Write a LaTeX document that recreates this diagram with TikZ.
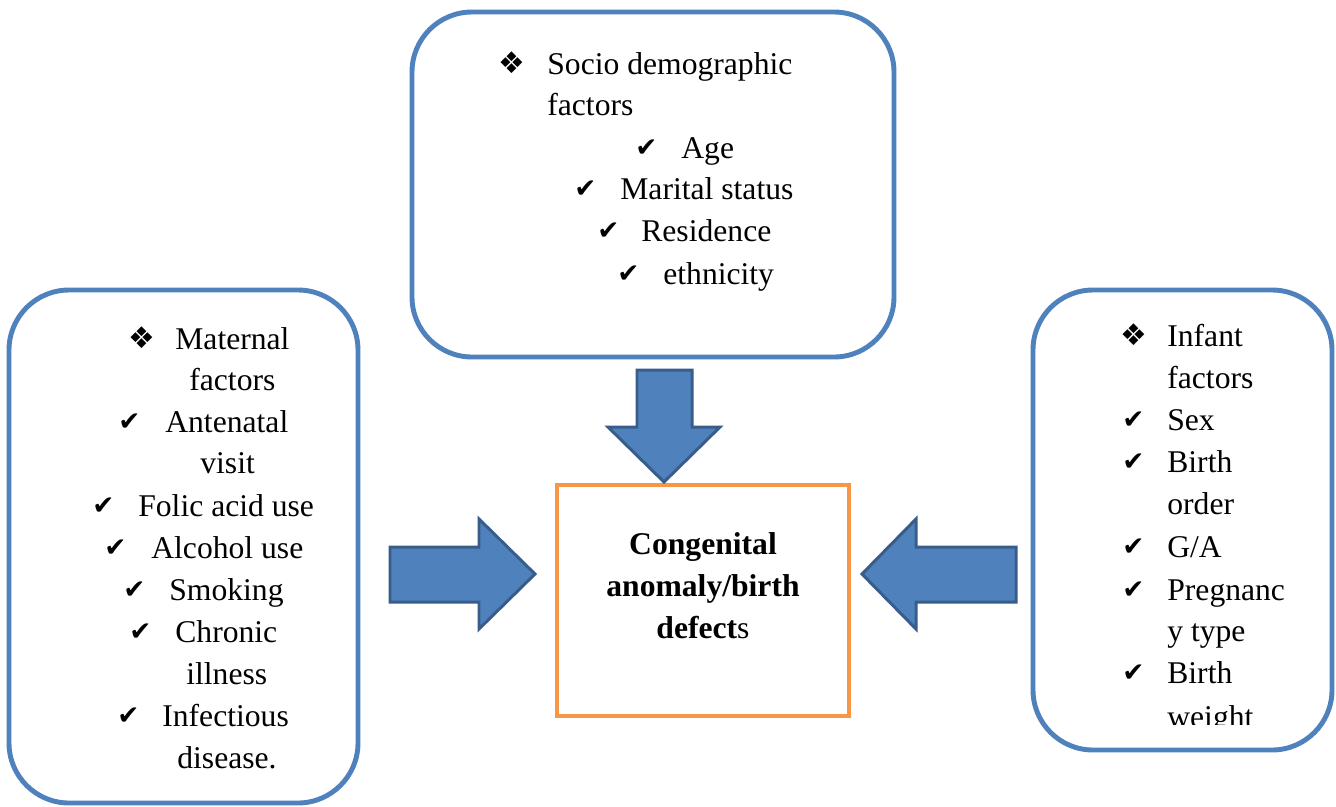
\documentclass[tikz,border=0pt]{standalone}
\usepackage{fontspec}
\setmainfont{Liberation Serif}
\newfontfamily\symfont{DejaVu Sans}
\definecolor{boxblue}{HTML}{4F81BD}
\definecolor{arrowline}{HTML}{385D8A}
\definecolor{centerorange}{HTML}{F79646}
\tikzset{
 rbox/.style={draw=boxblue, line width=2.8pt, rounded corners=1.2cm},
 cbox/.style={draw=centerorange, line width=2.3pt},
 blockarrow/.style={fill=boxblue, draw=arrowline, line width=1.7pt, line join=miter},
 txt/.style={anchor=base west, inner sep=0pt, font=\fontsize{18}{22}\selectfont},
 ctxt/.style={anchor=base, inner sep=0pt, font=\fontsize{18}{22}\selectfont\bfseries},
 chk/.style={anchor=base west, inner sep=0pt, font=\symfont\fontsize{15}{16}\selectfont},
 dia/.style={anchor=base west, inner sep=0pt, font=\symfont\fontsize{17}{18}\selectfont},
}
\begin{document}
\begin{tikzpicture}[x=0.02cm, y=-0.02cm]
\useasboundingbox (0,0) rectangle (1336,806);
\clip (0,0) rectangle (1336,806);
\fill[white] (0,0) rectangle (1336,806);

% boxes
\draw[rbox] (412,12) rectangle (894,357);
\draw[rbox] (9,290) rectangle (358,803);
\draw[rbox] (1033,290) rectangle (1332,750);
\draw[cbox] (557,485) rectangle (849,716);

% block arrows
\draw[blockarrow] (637,370) -- (692,370) -- (692,427) -- (720,427) -- (664,482) -- (608,427) -- (637,427) -- cycle;
\draw[blockarrow] (390,547) -- (479,547) -- (479,519) -- (535,574) -- (479,629) -- (479,602) -- (390,602) -- cycle;
\draw[blockarrow] (1016,547) -- (916,547) -- (916,519) -- (862,574) -- (916,629) -- (916,602) -- (1016,602) -- cycle;

% top box text
\node[dia] (tb) at (498,73) {❖};
\node[txt] (t1) at (547,74) {Socio demographic};
\node[txt] (t2) at (547,115) {factors};
\node[chk] (tc1) at (635,156) {✔};
\node[txt] (t3) at (681,158) {Age};
\node[chk] (tc2) at (574,197) {✔};
\node[txt] (t4) at (620,199) {Marital status};
\node[chk] (tc3) at (597,239) {✔};
\node[txt] (t5) at (641,241) {Residence};
\node[chk] (tc4) at (617,282) {✔};
\node[txt] (t6) at (663,284) {ethnicity};

% left box text
\node[dia] (lb) at (128,348) {❖};
\node[txt] (l1) at (175,349) {Maternal};
\node[txt] (l2) at (189,390) {factors};
\node[chk] (lc1) at (118,430) {✔};
\node[txt] (l3) at (165,432) {Antenatal};
\node[txt] (l4) at (200,473) {visit};
\node[chk] (lc2) at (92,514) {✔};
\node[txt] (l5) at (138,516) {Folic acid use};
\node[chk] (lc3) at (104,556) {✔};
\node[txt] (l6) at (151,558) {Alcohol use};
\node[chk] (lc4) at (123,598) {✔};
\node[txt] (l7) at (169,600) {Smoking};
\node[chk] (lc5) at (129,640) {✔};
\node[txt] (l8) at (175,642) {Chronic};
\node[txt] (l9) at (186,684) {illness};
\node[chk] (lc6) at (117,724) {✔};
\node[txt] (l10) at (162,726) {Infectious};
\node[txt] (l11) at (177,768) {disease.};

% right box text
\begin{scope}
\clip (1036,293) rectangle (1329,724);
\node[dia] (rb) at (1120,345) {❖};
\node[txt] (r1) at (1167,346) {Infant};
\node[txt] (r2) at (1167,388) {factors};
\node[chk] (rc1) at (1122,428) {✔};
\node[txt] (r3) at (1167,430) {Sex};
\node[chk] (rc2) at (1122,470) {✔};
\node[txt] (r4) at (1167,472) {Birth};
\node[txt] (r5) at (1167,514) {order};
\node[chk] (rc3) at (1122,555) {✔};
\node[txt] (r6) at (1167,557) {G/A};
\node[chk] (rc4) at (1122,598) {✔};
\node[txt] (r7) at (1167,600) {Pregnanc};
\node[txt] (r8) at (1167,641) {y type};
\node[chk] (rc5) at (1122,681) {✔};
\node[txt] (r9) at (1167,683) {Birth};
\node[txt] (r10) at (1167,727) {weight};
\end{scope}

% centre text
\node[ctxt] (c1) at (703,554) {Congenital};
\node[ctxt] (c2) at (703,596) {anomaly/birth};
\node[ctxt] (c3) at (703,638) {defect\mdseries s};
\end{tikzpicture}
\end{document}
